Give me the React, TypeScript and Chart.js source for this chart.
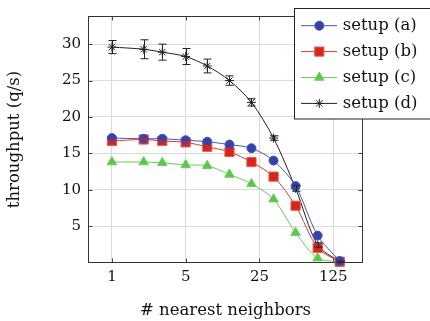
import React, { useEffect, useRef } from "react";
import { Chart, registerables } from "chart.js";
import { drawPoint } from "chart.js/helpers";

Chart.register(...registerables);

const neighbors = [1, 2, 3, 5, 8, 13, 21, 34, 55, 89, 144];
const setupA = [17.1, 17.0, 17.0, 16.8, 16.6, 16.2, 15.7, 14.0, 10.5, 3.7, 0.2];
const setupB = [16.7, 16.9, 16.7, 16.5, 15.9, 15.2, 13.8, 11.8, 7.8, 2.0, 0.1];
const setupC = [13.8, 13.8, 13.7, 13.4, 13.3, 12.1, 10.8, 8.7, 4.1, 0.6, 0.1];
const setupD = [29.6, 29.3, 28.9, 28.3, 27.0, 25.0, 22.0, 17.1, 10.2, 2.4, 0.1];
const errorB = [0.1, 0.1, 0.1, 0.1, 0.2, 0.5, 0.2, 0.2, 0.2, 0.2, 0.1];
const errorD = [0.9, 1.3, 1.1, 1.1, 0.95, 0.65, 0.5, 0.3, 0.4, 0.3, 0.1];
const xTicks = [1, 5, 25, 125];
const yTicks = [5, 10, 15, 20, 25, 30];
const labels = ["setup (a)", "setup (b)", "setup (c)", "setup (d)"];

const FONT = "'DejaVu Serif', serif";

const errorBarPlugin = {
  id: "errorBars",
  afterDatasetsDraw(chart: any) {
    const ctx = chart.ctx;
    const xs = chart.scales.x;
    const ys = chart.scales.y;
    chart.data.datasets.forEach((ds: any) => {
      if (!ds.errors) return;
      ctx.save();
      ctx.strokeStyle = ds.errorColor;
      ctx.lineWidth = 1;
      ds.data.forEach((p: any, i: number) => {
        const e = ds.errors[i];
        const x = Math.round(xs.getPixelForValue(p.x)) + 0.5;
        const y1 = ys.getPixelForValue(p.y - e);
        const y2 = ys.getPixelForValue(p.y + e);
        ctx.beginPath();
        ctx.moveTo(x, y1);
        ctx.lineTo(x, y2);
        ctx.moveTo(x - 4, y1);
        ctx.lineTo(x + 4, y1);
        ctx.moveTo(x - 4, y2);
        ctx.lineTo(x + 4, y2);
        ctx.stroke();
      });
      ctx.restore();
    });
  },
};

const framePlugin = {
  id: "frame",
  beforeDatasetsDraw(chart: any) {
    const ctx = chart.ctx;
    const a = chart.chartArea;
    const xs = chart.scales.x;
    const ys = chart.scales.y;
    ctx.save();
    ctx.strokeStyle = "#444";
    ctx.lineWidth = 1;
    ctx.beginPath();
    xTicks.forEach((v) => {
      const x = Math.round(xs.getPixelForValue(v)) + 0.5;
      ctx.moveTo(x, a.bottom);
      ctx.lineTo(x, a.bottom - 4);
      ctx.moveTo(x, a.top);
      ctx.lineTo(x, a.top + 4);
    });
    yTicks.forEach((v) => {
      const y = Math.round(ys.getPixelForValue(v)) + 0.5;
      ctx.moveTo(a.left, y);
      ctx.lineTo(a.left + 4, y);
      ctx.moveTo(a.right, y);
      ctx.lineTo(a.right - 4, y);
    });
    ctx.stroke();
    ctx.strokeStyle = "#333";
    ctx.strokeRect(a.left, a.top, a.right - a.left, a.bottom - a.top);
    ctx.restore();
  },
};

const legendPlugin = {
  id: "customLegend",
  afterDraw(chart: any) {
    const ctx = chart.ctx;
    ctx.save();
    ctx.fillStyle = "#ffffff";
    ctx.fillRect(294.5, 8.5, 140, 110.5);
    ctx.strokeStyle = "#222";
    ctx.lineWidth = 1;
    ctx.strokeRect(294.5, 8.5, 140, 110.5);
    chart.data.datasets.forEach((ds: any, i: number) => {
      const y = 25.7 + i * 25.9;
      ctx.strokeStyle = ds.borderColor;
      ctx.lineWidth = 1;
      ctx.beginPath();
      ctx.moveTo(301, y);
      ctx.lineTo(337, y);
      ctx.stroke();
      ctx.fillStyle = ds.pointBackgroundColor;
      ctx.strokeStyle = ds.pointBorderColor;
      ctx.lineWidth = ds.pointBorderWidth;
      drawPoint(ctx, { pointStyle: ds.pointStyle, radius: ds.pointRadius, rotation: 0, borderWidth: ds.pointBorderWidth }, 319.3, y);
      ctx.fillStyle = "#111";
      ctx.font = `16.5px ${FONT}`;
      ctx.textBaseline = "middle";
      ctx.textAlign = "left";
      ctx.fillText(ds.label, 342.7, y + 0.5);
    });
    ctx.restore();
  },
};

function pts(vals: number[]) {
  return neighbors.map((x, i) => ({ x, y: vals[i] }));
}

export default function App() {
  const ref = useRef<HTMLCanvasElement>(null);
  useEffect(() => {
    if (!ref.current) return;
    const chart = new Chart(ref.current, {
      type: "line",
      data: {
        datasets: [
          {
            label: labels[0],
            data: pts(setupA),
            borderColor: "#4655b8",
            backgroundColor: "#3343a8",
            pointBackgroundColor: "#3343a8",
            pointBorderColor: "#4655b8",
            pointBorderWidth: 1,
            pointStyle: "circle",
            pointRadius: 4.5,
            borderWidth: 1,
            tension: 0.3,
            clip: false,
          },
          {
            label: labels[1],
            data: pts(setupB),
            borderColor: "#e4372b",
            backgroundColor: "#d4261a",
            pointBackgroundColor: "#d4261a",
            pointBorderColor: "#ee5a4f",
            pointBorderWidth: 1,
            pointStyle: "rect",
            pointRadius: 6.5,
            borderWidth: 1,
            tension: 0.3,
            clip: false,
            errors: errorB,
            errorColor: "#d4261a",
          } as any,
          {
            label: labels[2],
            data: pts(setupC),
            borderColor: "#66cc55",
            backgroundColor: "#5cc64c",
            pointBackgroundColor: "#5cc64c",
            pointBorderColor: "#6ad25a",
            pointBorderWidth: 1,
            pointStyle: "triangle",
            pointRadius: 5.5,
            borderWidth: 1,
            tension: 0.3,
            clip: false,
          },
          {
            label: labels[3],
            data: pts(setupD),
            borderColor: "#222222",
            backgroundColor: "#222222",
            pointBackgroundColor: "#222222",
            pointBorderColor: "#222222",
            pointBorderWidth: 1,
            pointStyle: "star",
            pointRadius: 4.5,
            borderWidth: 1,
            tension: 0.3,
            clip: false,
            errors: errorD,
            errorColor: "#222222",
          } as any,
        ],
      },
      options: {
        responsive: false,
        animation: false,
        devicePixelRatio: 1,
        layout: { padding: { top: 8.3, right: 67.5, left: 0, bottom: 0 } },
        plugins: { legend: { display: false }, tooltip: { enabled: false } },
        scales: {
          x: {
            type: "logarithmic",
            min: 0.608,
            max: 236.8,
            afterBuildTicks: (s: any) => {
              s.ticks = xTicks.map((v) => ({ value: v }));
            },
            afterFit: (s: any) => {
              s.height = 58.5;
            },
            ticks: {
              autoSkip: false,
              maxRotation: 0,
              padding: 6,
              color: "#111",
              font: { family: FONT, size: 15 },
              callback: (v: any) => String(v),
            },
            grid: { color: "#dadada", drawTicks: false },
            border: { display: false },
            title: {
              display: true,
              text: "# nearest neighbors",
              color: "#111",
              font: { family: FONT, size: 16.5 },
              padding: { top: 0, bottom: 0 },
            },
          },
          y: {
            type: "linear",
            min: 0,
            max: 33.8,
            afterBuildTicks: (s: any) => {
              s.ticks = yTicks.map((v) => ({ value: v }));
            },
            afterFit: (s: any) => {
              s.width = 88.5;
            },
            ticks: {
              padding: 7.5,
              color: "#111",
              font: { family: FONT, size: 15 },
              callback: (v: any) => String(v),
            },
            grid: { color: "#dadada", drawTicks: false },
            border: { display: false },
            title: {
              display: true,
              text: "throughput (q/s)",
              color: "#111",
              font: { family: FONT, size: 16.5 },
              padding: { top: 4.6, bottom: 4.6 },
            },
          },
        },
      },
      plugins: [framePlugin, errorBarPlugin, legendPlugin],
    });
    return () => chart.destroy();
  }, []);
  return (
    <div style={{ position: "fixed", left: 0, top: 0, width: 430, height: 321, background: "#fff" }}>
      <canvas ref={ref} width={430} height={321} style={{ width: 430, height: 321, display: "block" }} />
    </div>
  );
}
